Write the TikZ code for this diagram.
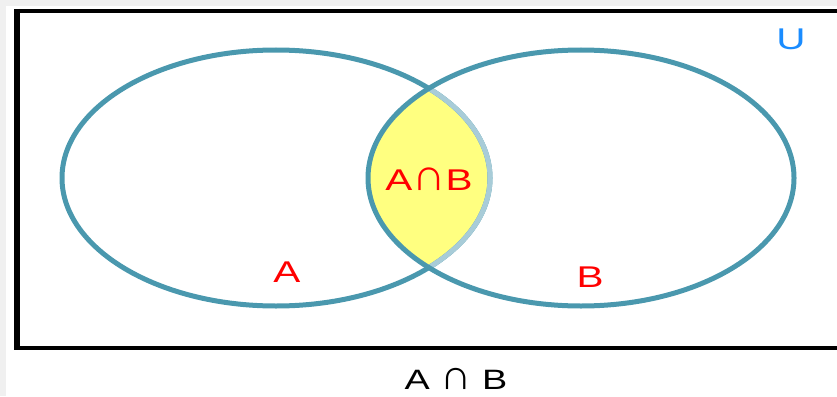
\documentclass[tikz,border=0pt]{standalone}
\usepackage{fontspec}
\usepackage{graphicx}
\usetikzlibrary{shapes.geometric}
\setmainfont{Liberation Sans}
\newcommand{\widetxt}[1]{\scalebox{1.35}[1]{#1}}
\newcommand{\tallcapsym}{\scalebox{1.15}[1.5]{∩}}
\begin{document}
\begin{tikzpicture}[x=1pt,y=-1pt,
  ring/.style={draw=ringc,line width=5pt},
  lbl/.style={text=red,font=\fontsize{30}{31}\selectfont,inner sep=0pt,anchor=base}]
\definecolor{ringc}{HTML}{4A98AE}
\definecolor{ringl}{HTML}{A8CCD8}
\definecolor{lensy}{HTML}{FFFF80}
\definecolor{ublue}{HTML}{1A8CFF}
\useasboundingbox (0,0) rectangle (837,396);
\fill[gray!12] (0,0) rectangle (837,6);
\fill[gray!12] (0,0) rectangle (6,396);
% frame
\draw[line width=4pt] (840,11) -- (17,11) -- (17,348) -- (840,348);
\draw[line width=6pt] (17,9) -- (17,350);
% lens fill
\begin{scope}
  \clip (276,178) ellipse [x radius=214, y radius=128];
  \fill[lensy] (581,178) ellipse [x radius=213, y radius=128];
\end{scope}
\node[ellipse,minimum width=428pt,minimum height=256pt,inner sep=0pt] (A) at (276,178) {};
\node[ellipse,minimum width=426pt,minimum height=256pt,inner sep=0pt] (B) at (581,178) {};
\draw[ring] (276,178) ellipse [x radius=214, y radius=128];
% light arc of A inside B
\begin{scope}
  \clip (581,178) ellipse [x radius=213, y radius=128];
  \draw[ring,draw=ringl] (276,178) ellipse [x radius=214, y radius=128];
\end{scope}
\draw[ring] (581,178) ellipse [x radius=213, y radius=128];
\node[lbl] (ab) at (429,190) {\widetxt{A\tallcapsym B}};
\node[lbl] (la) at (287,282) {\widetxt{A}};
\node[lbl] (lb) at (590,287) {\widetxt{B}};
\node[lbl,text=ublue] (u) at (791,50) {\widetxt{U}};
\node[lbl,text=black,font=\fontsize{28}{29}\selectfont] (cap) at (456,389) {\widetxt{A \tallcapsym\ B}};
\end{tikzpicture}
\end{document}
